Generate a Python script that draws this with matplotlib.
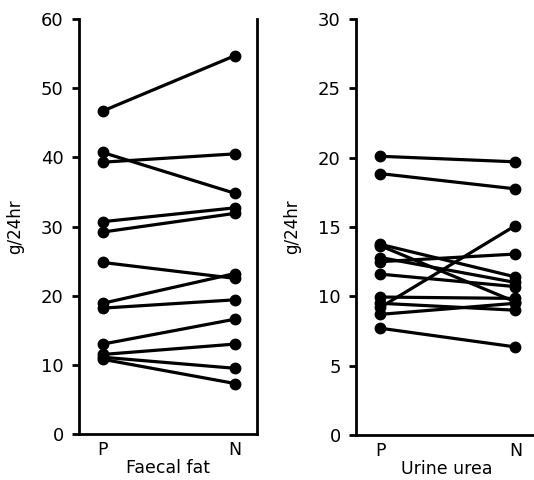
import matplotlib
matplotlib.use("Agg")
import matplotlib.pyplot as plt

plt.rcParams['font.family'] = ['DejaVu Sans']

groups = ["P", "N"]

fat_p = [46.7, 40.7, 39.3, 30.7, 29.2, 24.8, 18.9, 18.2, 13.0, 11.5, 11.1, 10.8]
fat_n = [54.7, 34.8, 40.5, 32.7, 31.9, 22.5, 23.2, 19.4, 16.6, 13.0, 9.5, 7.3]

urea_p = [20.1, 18.85, 13.75, 13.65, 12.8, 12.5, 11.6, 9.95, 9.5, 9.2, 8.7, 7.7]
urea_n = [19.7, 17.75, 11.4, 9.6, 11.0, 13.05, 10.7, 9.85, 9.0, 15.1, 9.5, 6.35]

fat_ticks = [0, 10, 20, 30, 40, 50, 60]
urea_ticks = [0, 5, 10, 15, 20, 25, 30]

W, H = 534, 480
fig = plt.figure(figsize=(W / 100, H / 100), dpi=100)

def px_axes(x0, x1, y0, y1):
    return fig.add_axes([x0 / W, 1 - y1 / H, (x1 - x0) / W, (y1 - y0) / H])

ax1 = px_axes(79, 257, 19, 434)
ax2 = px_axes(356, 538, 19, 435)

def style(ax, p, n, ticks, ymax, xlabel):
    for a, b in zip(p, n):
        ax.plot([0, 1], [a, b], color='black', lw=2.3, marker='o', ms=7.5,
                solid_capstyle='round', clip_on=False)
    ax.set_xlim(-0.18, 1.167)
    ax.set_ylim(0, ymax)
    ax.set_xticks([0, 1])
    ax.set_xticklabels(groups, fontsize=12.5)
    ax.set_yticks(ticks)
    ax.set_yticklabels([str(t) for t in ticks], fontsize=13)
    ax.tick_params(axis='x', length=0, pad=5)
    ax.tick_params(axis='y', direction='out', length=5, width=2, pad=6)
    ax.spines['top'].set_visible(False)
    for s in ['left', 'right', 'bottom']:
        ax.spines[s].set_linewidth(2)
    ax.set_xlabel(xlabel, fontsize=12.5, labelpad=0)
    ax.set_ylabel("g/24hr", fontsize=12, labelpad=12)

style(ax1, fat_p, fat_n, fat_ticks, 60, "Faecal fat")
style(ax2, urea_p, urea_n, urea_ticks, 30, "Urine urea")

fig.savefig("out.png", dpi=100)
